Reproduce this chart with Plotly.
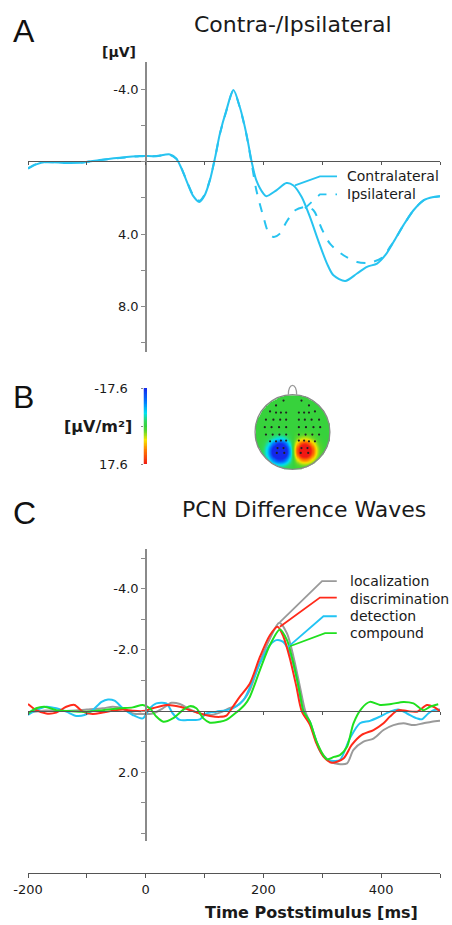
import numpy as np
import plotly.graph_objects as go

W, H = 452, 925

# ---------------- Panel A data (µV, time in ms) ----------------
contra_t = [-200, -186, -170, -135, -107, -78, -44, -10, 18, 41, 52, 61, 69, 80, 91, 100, 109, 118,
            126, 137, 149, 160, 171, 180, 188, 200, 205, 222, 239, 251, 265, 279, 293, 308, 319,
            339, 359, 376, 393, 407, 421, 438, 455, 472, 489, 500]
contra_v = [0.39, 0.15, 0.02, 0.07, 0.05, -0.10, -0.22, -0.31, -0.31, -0.40, -0.17, 0.39, 1.03, 1.86,
            2.22, 1.86, 1.03, -0.25, -1.54, -2.83, -3.95, -3.00, -1.54, 0.00, 1.03, 1.76, 1.90, 1.58,
            1.18, 1.31, 1.95, 3.05, 4.34, 5.62, 6.27, 6.58, 6.17, 5.80, 5.62, 5.16, 4.43, 3.50, 2.68,
            2.13, 1.95, 1.90]
ipsi_t = [-200, -186, -170, -135, -107, -78, -44, -10, 18, 41, 52, 61, 69, 80, 91, 100, 109, 118,
          126, 137, 149, 160, 171, 180, 188, 200, 208, 217, 228, 239, 254, 271, 285, 299, 313, 336,
          359, 381, 404, 415, 421, 438, 455, 472, 489, 500]
ipsi_v = [0.35, 0.13, 0.03, 0.06, 0.04, -0.08, -0.20, -0.30, -0.30, -0.38, -0.16, 0.38, 1.00, 1.80,
          2.15, 1.82, 1.00, -0.25, -1.52, -2.80, -3.92, -2.98, -1.50, 0.10, 1.58, 3.05, 3.87, 4.15,
          3.97, 3.33, 2.68, 2.50, 2.68, 3.70, 4.52, 5.16, 5.53, 5.57, 5.25, 4.70, 4.43, 3.50, 2.68,
          2.13, 1.95, 1.90]

# ---------------- Panel C data (µV) ----------------
loc_t = [-200, -170, -140, -100, -73, -56, -39, -22, -5, 12, 29, 44, 58, 75, 92, 109, 126, 143, 154,
         166, 177, 194, 211, 227, 240, 251, 262, 271, 279, 290, 302, 315, 327, 342, 353, 370, 387,
         404, 421, 438, 455, 472, 486, 500]
loc_v = [0.05, -0.02, 0.00, -0.05, -0.09, -0.14, -0.09, 0.08, 0.10, 0.08, -0.09, -0.27, -0.23, -0.05,
         0.08, 0.13, 0.05, -0.10, -0.16, -0.36, -0.69, -1.61, -2.37, -2.89, -2.54, -1.78, -0.80, 0.00,
         0.38, 1.00, 1.45, 1.66, 1.73, 1.71, 1.27, 1.00, 0.90, 0.62, 0.46, 0.40, 0.46, 0.40, 0.35, 0.32]

dis_t = [-200, -186, -169, -152, -135, -121, -107, -90, -73, -56, -39, -22, -5, 12, 35, 58, 75, 92,
         109, 126, 137, 148, 160, 177, 194, 211, 224, 234, 245, 256, 265, 279, 290, 302, 316, 336,
         350, 367, 387, 404, 415, 429, 444, 461, 478, 489, 500]
dis_v = [-0.23, -0.03, 0.08, 0.05, -0.14, -0.20, 0.02, 0.10, 0.05, -0.01, -0.05, -0.01, 0.00, -0.09,
         -0.20, -0.14, -0.03, 0.08, 0.16, 0.19, 0.15, -0.14, -0.47, -0.90, -1.77, -2.48, -2.76, -2.43,
         -1.72, -0.80, 0.00, 0.45, 1.06, 1.49, 1.69, 1.55, 1.11, 0.78, 0.62, 0.40, 0.18, -0.03, 0.00,
         0.02, -0.20, -0.14, 0.00]

det_t = [-200, -186, -169, -152, -135, -118, -104, -90, -75, -64, -53, -39, -22, -5, 7, 18, 35, 46,
         58, 75, 92, 103, 120, 137, 148, 160, 168, 182, 194, 211, 222, 233, 245, 256, 268, 279, 285,
         296, 308, 319, 330, 347, 364, 381, 398, 415, 429, 444, 461, 469, 480, 489, 500]
det_v = [0.13, -0.03, -0.14, -0.09, 0.02, 0.16, 0.13, -0.03, -0.30, -0.38, -0.34, -0.09, 0.13, 0.24,
         -0.09, -0.25, -0.25, 0.08, 0.29, 0.29, 0.27, 0.08, 0.02, -0.03, -0.09, -0.25, -0.41, -1.00,
         -1.56, -2.16, -2.32, -2.27, -1.90, -1.12, 0.00, 0.35, 0.70, 1.30, 1.58, 1.63, 1.60, 0.89,
         0.40, 0.32, 0.18, 0.02, -0.05, 0.08, 0.24, 0.27, 0.08, -0.03, -0.05]

com_t = [-200, -186, -172, -152, -130, -101, -73, -44, -22, -5, 7, 18, 30, 46, 63, 75, 86, 98, 109,
         126, 137, 149, 160, 168, 177, 194, 211, 228, 240, 251, 262, 268, 279, 290, 302, 308, 320,
         330, 342, 353, 367, 381, 398, 417, 438, 455, 472, 483, 497]
com_v = [0.08, -0.09, -0.14, -0.03, 0.00, 0.02, -0.03, -0.09, -0.12, -0.20, -0.09, 0.18, 0.35, 0.24,
         -0.03, -0.16, -0.09, 0.24, 0.38, 0.35, 0.29, 0.12, -0.05, -0.20, -0.47, -1.34, -2.16, -2.67,
         -2.32, -1.56, -0.58, 0.00, 0.35, 0.98, 1.45, 1.58, 1.50, 1.44, 1.17, 0.40, -0.09, -0.30,
         -0.20, -0.23, -0.30, -0.25, -0.03, -0.14, -0.22]

pcn_names = ["localization", "discrimination", "detection", "compound"]

# ---------------- Panel B data ----------------
cbar_min, cbar_max = -17.6, 17.6
# current-source model of the scalp map (head coords, unit radius)
topo_src_x = [-0.34, 0.32]
topo_src_y = [-0.52, -0.50]
topo_src_amp = [-30.0, 26.0]
topo_src_w = [0.20, 0.19]
# electrode positions (left hemisphere; right side mirrored)
elec_lx = [-0.24, -0.44, -0.60, -0.44, -0.31, -0.17, -0.71, -0.51, -0.33, -0.17, -0.74, -0.56, -0.36,
           -0.17, -0.71, -0.53, -0.35, -0.17, -0.60, -0.44, -0.31, -0.17, -0.40, -0.24, -0.42, -0.22]
elec_ly = [0.84, 0.71, 0.55, 0.52, 0.52, 0.52, 0.33, 0.33, 0.33, 0.33, 0.13, 0.13, 0.13, 0.13, -0.07,
           -0.07, -0.07, -0.07, -0.25, -0.25, -0.23, -0.23, -0.43, -0.43, -0.56, -0.56]

# ---------------- helpers ----------------
def fx(px):
    return px / W


def fy(px):
    return 1 - px / H


CYAN = "#27c3f0"
AXC = "#8a8a8a"
ZC = "#555555"
TXT = "#1a1a1a"
FONT = "DejaVu Sans"

fig = go.Figure()

# Panel A traces
fig.add_trace(go.Scatter(x=contra_t, y=contra_v, mode="lines", line=dict(color=CYAN, width=2, shape="spline", smoothing=0.8),
                         xaxis="x", yaxis="y", showlegend=False, hoverinfo="skip"))
fig.add_trace(go.Scatter(x=ipsi_t, y=ipsi_v, mode="lines", line=dict(color=CYAN, width=2, dash="dash", shape="spline", smoothing=0.8),
                         xaxis="x", yaxis="y", showlegend=False, hoverinfo="skip"))

# Panel C traces
pcn_series = [(loc_t, loc_v, "#9a9a9a"), (det_t, det_v, "#22c4f4"), (dis_t, dis_v, "#ff2a1a"), (com_t, com_v, "#1fe01f")]
for tt, vv, col in pcn_series:
    fig.add_trace(go.Scatter(x=tt, y=vv, mode="lines", line=dict(color=col, width=2, shape="spline", smoothing=0.8),
                             xaxis="x3", yaxis="y3", showlegend=False, hoverinfo="skip"))
fig.add_trace(go.Scatter(x=[None], y=[None], xaxis="x4", yaxis="y3", showlegend=False, hoverinfo="skip"))

# Panel B colorbar
levels = np.linspace(cbar_min, cbar_max, 101)
colorscale = [[0.0, "rgb(20,40,235)"], [0.18, "rgb(0,120,255)"], [0.33, "rgb(0,225,240)"],
              [0.44, "rgb(50,215,90)"], [0.5, "rgb(55,210,60)"], [0.56, "rgb(90,215,45)"],
              [0.68, "rgb(245,230,0)"], [0.82, "rgb(255,120,0)"], [1.0, "rgb(240,25,20)"]]
fig.add_trace(go.Heatmap(z=[[v] for v in levels], x=[0], y=levels, colorscale=colorscale,
                         zmin=cbar_min, zmax=cbar_max, showscale=False, xaxis="x5", yaxis="y5", hoverinfo="skip"))

# Panel B topography
g = np.linspace(-1, 1, 141)
GX, GY = np.meshgrid(g, g)
Z = np.zeros_like(GX)
for sx, sy, a, w in zip(topo_src_x, topo_src_y, topo_src_amp, topo_src_w):
    Z += a * np.exp(-((GX - sx) ** 2 + (GY - sy) ** 2) / (2 * w ** 2))
Z = np.clip(Z, cbar_min, cbar_max)
Z[GX ** 2 + GY ** 2 > 1.0] = np.nan
fig.add_trace(go.Heatmap(z=Z, x=g, y=g, colorscale=colorscale, zmin=cbar_min, zmax=cbar_max, zsmooth="best",
                         showscale=False, xaxis="x6", yaxis="y6", hoverinfo="skip"))
ex = elec_lx + [-v for v in elec_lx]
ey = elec_ly + elec_ly
fig.add_trace(go.Scatter(x=ex, y=ey, mode="markers", marker=dict(color="#222", size=2.2),
                         xaxis="x6", yaxis="y6", showlegend=False, hoverinfo="skip"))

xdom = [fx(28), fx(440)]
tickfont = dict(family=FONT, size=13, color=TXT)

layout = dict(
    width=W, height=H, margin=dict(l=0, r=0, t=0, b=0, pad=0, autoexpand=False),
    paper_bgcolor="white", plot_bgcolor="rgba(0,0,0,0)",
    showlegend=False,
    # Panel A
    xaxis=dict(domain=xdom, range=[-200, 500], anchor="free", position=fy(161.3), showline=True, linecolor=ZC,
               linewidth=1, ticks="outside", ticklen=3, tickcolor=ZC, dtick=100, tick0=0, showticklabels=False,
               showgrid=False, zeroline=False, automargin=False),
    yaxis=dict(domain=[fy(352), fy(62)], range=[10.5, -5.5], anchor="free", position=fx(146), side="left",
               showline=True, linecolor=AXC, linewidth=1.5, ticks="outside", ticklen=4, tickcolor=AXC,
               tickvals=[-4, -2, 0, 2, 4, 6, 8, 10], ticktext=["-4.0", "", "", "", "4.0", "", "8.0", ""],
               tickfont=tickfont, showgrid=False, zeroline=False, automargin=False),
    # Panel C
    xaxis3=dict(domain=xdom, range=[-200, 500], anchor="free", position=fy(711), showline=True, linecolor=ZC,
                linewidth=1, ticks="outside", ticklen=3, tickcolor=ZC, dtick=100, tick0=0, showticklabels=False,
                showgrid=False, zeroline=False, automargin=False),
    xaxis4=dict(domain=xdom, range=[-200, 500], anchor="free", overlaying="x3", position=fy(873), showline=True,
                linecolor=ZC, linewidth=1, ticks="outside", ticklen=4, tickcolor=ZC,
                tickvals=[-200, 0, 200, 400], ticktext=["-200", "0", "200", "400"], tickfont=tickfont,
                minor=dict(tickvals=[-100, 100, 300, 500], ticks="outside", ticklen=4, tickcolor=ZC),
                showgrid=False, zeroline=False, automargin=False),
    yaxis3=dict(domain=[fy(841), fy(549)], range=[4.25, -5.3], anchor="free", position=fx(146), side="left",
                showline=True, linecolor=AXC, linewidth=1.5, ticks="outside", ticklen=4, tickcolor=AXC,
                tickvals=[-5, -4, -3, -2, -1, 0, 1, 2, 3, 4],
                ticktext=["", "-4.0", "", "-2.0", "", "", "", "2.0", "", ""],
                tickfont=tickfont, showgrid=False, zeroline=False, automargin=False),
    # Panel B colorbar
    xaxis5=dict(domain=[fx(143.5), fx(147)], anchor="y5", visible=False, automargin=False),
    yaxis5=dict(domain=[fy(464), fy(388)], range=[cbar_max, cbar_min], anchor="x5", side="left",
                tickvals=[cbar_min, 0, cbar_max], ticktext=["-17.6", "", "17.6"], ticks="outside", ticklen=2,
                tickcolor=AXC, tickfont=tickfont, ticklabelstandoff=10, showline=False, showgrid=False,
                zeroline=False, automargin=False),
    # Panel B head
    xaxis6=dict(domain=[fx(237.5), fx(347.5)], range=[-1.47, 1.47], anchor="y6", visible=False, automargin=False),
    yaxis6=dict(domain=[fy(487), fy(377)], range=[-1.47, 1.47], anchor="x6", visible=False, automargin=False),
)
fig.update_layout(**layout)

shapes = [
    dict(type="circle", xref="x6", yref="y6", x0=-1, x1=1, y0=-1, y1=1, line=dict(color="#888", width=1.3)),
    dict(type="path", xref="x6", yref="y6", path="M -0.11,0.995 C -0.12,1.33 0.12,1.33 0.11,0.995",
         line=dict(color="#999", width=1.3)),
    # Panel A leader lines
    dict(type="path", xref="x", yref="y", path="M 253.6,1.31 L 296,0.81 L 325,0.81", line=dict(color=CYAN, width=1.8)),
    dict(type="path", xref="x", yref="y", path="M 270.6,2.57 L 296,1.80 L 325,1.80",
         line=dict(color=CYAN, width=1.8, dash="dash")),
    # Panel C leader lines
    dict(type="path", xref="x3", yref="y3", path="M 228,-2.91 L 299.6,-4.25 L 324.6,-4.25", line=dict(color="#9a9a9a", width=1.8)),
    dict(type="path", xref="x3", yref="y3", path="M 228,-2.76 L 296,-3.71 L 324.6,-3.71", line=dict(color="#ff2a1a", width=1.8)),
    dict(type="path", xref="x3", yref="y3", path="M 242,-2.10 L 302,-3.10 L 324.6,-3.10", line=dict(color="#22c4f4", width=1.8)),
    dict(type="path", xref="x3", yref="y3", path="M 245,-2.12 L 304.7,-2.55 L 324.6,-2.55", line=dict(color="#1fe01f", width=1.8)),
]
fig.update_layout(shapes=shapes)

ann = []


def add_text(text, x, y, size, xanchor="center", family=FONT, xref="paper", yref="paper", color=TXT):
    ann.append(dict(text=text, x=x, y=y, xref=xref, yref=yref, xanchor=xanchor, yanchor="middle",
                    showarrow=False, font=dict(family=family, size=size, color=color)))


add_text("A", fx(11), fy(31), 32, "left", family="Liberation Sans", color="#111")
add_text("B", fx(11), fy(397), 32, "left", family="Liberation Sans", color="#111")
add_text("C", fx(11), fy(513), 32, "left", family="Liberation Sans", color="#111")
add_text("Contra-/Ipsilateral", fx(293), fy(25), 22)
add_text("PCN Difference Waves", fx(304), fy(509), 22)
add_text("<b>[µV]</b>", fx(138), fy(52), 14, "right")
add_text("<b>[µV/m²]</b>", fx(98), fy(427), 16)
add_text("<b>Time Poststimulus [ms]</b>", fx(311), fy(912), 16)
add_text("Contralateral", 339, 0.81, 14, "left", xref="x", yref="y")
add_text("Ipsilateral", 339, 1.80, 14, "left", xref="x", yref="y")
for name, yv in zip(pcn_names, [-4.25, -3.66, -3.10, -2.55]):
    add_text(name, 343, yv, 14, "left", xref="x3", yref="y3")
fig.update_layout(annotations=ann)

fig.write_html("out.html")
